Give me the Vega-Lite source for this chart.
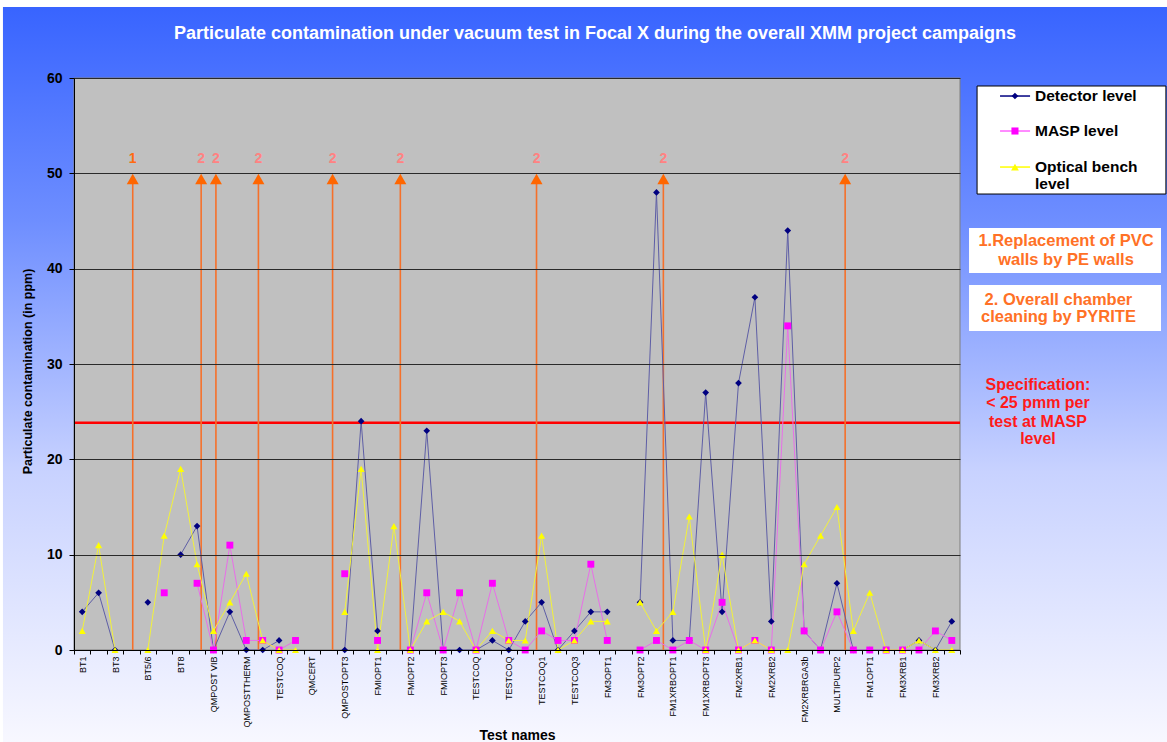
{
  "$schema": "https://vega.github.io/schema/vega-lite/v6.json",
  "width": 886,
  "height": 572,
  "autosize": {"type": "none"},
  "padding": {"left": 74, "top": 78, "right": 207, "bottom": 92},
  "background": "#FFFFFF",
  "config": {"view": {"stroke": null}, "font": "Liberation Sans"},
  "title": {
    "text": "Particulate contamination under vacuum test in Focal X during the overall XMM project campaigns",
    "color": "#FFFFFF", "font": "Liberation Sans", "fontSize": 18, "fontWeight": "bold",
    "anchor": "middle", "frame": "group", "dx": 78, "offset": -36
  },
  "datasets": {
    "tests": [
      {"n": 0, "test": "BT1", "detector": 4, "masp": null, "optical": 2},
      {"n": 1, "test": "BT2", "detector": 6, "masp": null, "optical": 11},
      {"n": 2, "test": "BT3", "detector": 0, "masp": null, "optical": 0},
      {"n": 3, "test": "BT4", "detector": null, "masp": null, "optical": null},
      {"n": 4, "test": "BT5/6", "detector": 5, "masp": null, "optical": 0},
      {"n": 5, "test": "BT7", "detector": null, "masp": 6, "optical": 12},
      {"n": 6, "test": "BT8", "detector": 10, "masp": null, "optical": 19},
      {"n": 7, "test": "BT9", "detector": 13, "masp": 7, "optical": 9},
      {"n": 8, "test": "QMPOST VIB", "detector": 0, "masp": 0, "optical": 2},
      {"n": 9, "test": "QMPOST VIB B", "detector": 4, "masp": 11, "optical": 5},
      {"n": 10, "test": "QMPOSTTHERM", "detector": 0, "masp": 1, "optical": 8},
      {"n": 11, "test": "QMPOSTTHERM B", "detector": 0, "masp": 1, "optical": 1},
      {"n": 12, "test": "TESTCOQ", "detector": 1, "masp": 0, "optical": 0},
      {"n": 13, "test": "TESTCOQ B", "detector": null, "masp": 1, "optical": 0},
      {"n": 14, "test": "QMCERT", "detector": null, "masp": null, "optical": null},
      {"n": 15, "test": "QMCERT B", "detector": null, "masp": null, "optical": null},
      {"n": 16, "test": "QMPOSTOPT3", "detector": 0, "masp": 8, "optical": 4},
      {"n": 17, "test": "QMPOSTOPT3 B", "detector": 24, "masp": null, "optical": 19},
      {"n": 18, "test": "FMIOPT1", "detector": 2, "masp": 1, "optical": 0},
      {"n": 19, "test": "FMIOPT1 B", "detector": null, "masp": null, "optical": 13},
      {"n": 20, "test": "FMIOPT2", "detector": 0, "masp": 0, "optical": 0},
      {"n": 21, "test": "FMIOPT2 B", "detector": 23, "masp": 6, "optical": 3},
      {"n": 22, "test": "FMIOPT3", "detector": 0, "masp": 0, "optical": 4},
      {"n": 23, "test": "FMIOPT3 B", "detector": 0, "masp": 6, "optical": 3},
      {"n": 24, "test": "TESTCOQ\u200b", "detector": 0, "masp": 0, "optical": 0},
      {"n": 25, "test": "TESTCOQ C", "detector": 1, "masp": 7, "optical": 2},
      {"n": 26, "test": "TESTCOQ\u200b\u200b", "detector": 0, "masp": 1, "optical": 1},
      {"n": 27, "test": "TESTCOQ D", "detector": 3, "masp": 0, "optical": 1},
      {"n": 28, "test": "TESTCOQ1", "detector": 5, "masp": 2, "optical": 12},
      {"n": 29, "test": "TESTCOQ2", "detector": 0, "masp": 1, "optical": 0},
      {"n": 30, "test": "TESTCOQ3", "detector": 2, "masp": 1, "optical": 1},
      {"n": 31, "test": "TESTCOQ4", "detector": 4, "masp": 9, "optical": 3},
      {"n": 32, "test": "FM3OPT1", "detector": 4, "masp": 1, "optical": 3},
      {"n": 33, "test": "FM3OPT1 B", "detector": null, "masp": null, "optical": null},
      {"n": 34, "test": "FM3OPT2", "detector": 5, "masp": 0, "optical": 5},
      {"n": 35, "test": "FM3OPT2 B", "detector": 48, "masp": 1, "optical": 2},
      {"n": 36, "test": "FM1XRBOPT1", "detector": 1, "masp": 0, "optical": 4},
      {"n": 37, "test": "FM1XRBOPT2", "detector": 1, "masp": 1, "optical": 14},
      {"n": 38, "test": "FM1XRBOPT3", "detector": 27, "masp": 0, "optical": 0},
      {"n": 39, "test": "FM1XRBOPT3 B", "detector": 4, "masp": 5, "optical": 10},
      {"n": 40, "test": "FM2XRB1", "detector": 28, "masp": 0, "optical": 0},
      {"n": 41, "test": "FM2XRB1 B", "detector": 37, "masp": 1, "optical": 1},
      {"n": 42, "test": "FM2XRB2", "detector": 3, "masp": 0, "optical": 0},
      {"n": 43, "test": "FM2XRB2 B", "detector": 44, "masp": 34, "optical": 0},
      {"n": 44, "test": "FM2XRBRGA3b", "detector": 2, "masp": 2, "optical": 9},
      {"n": 45, "test": "FM2XRBRGA3b B", "detector": 0, "masp": 0, "optical": 12},
      {"n": 46, "test": "MULTIPURP2", "detector": 7, "masp": 4, "optical": 15},
      {"n": 47, "test": "MULTIPURP2 B", "detector": 0, "masp": 0, "optical": 2},
      {"n": 48, "test": "FM1OPT1", "detector": 0, "masp": 0, "optical": 6},
      {"n": 49, "test": "FM1OPT2", "detector": 0, "masp": 0, "optical": 0},
      {"n": 50, "test": "FM3XRB1", "detector": 0, "masp": 0, "optical": 0},
      {"n": 51, "test": "FM3XRB1 B", "detector": 1, "masp": 0, "optical": 1},
      {"n": 52, "test": "FM3XRB2", "detector": 0, "masp": 2, "optical": 0},
      {"n": 53, "test": "FM3XRB3", "detector": 3, "masp": 1, "optical": 0}
    ],
    "arrows": [
      {"at": 3.08, "label": "1"},
      {"at": 7.25, "label": "2"},
      {"at": 8.15, "label": "2"},
      {"at": 10.74, "label": "2"},
      {"at": 15.26, "label": "2"},
      {"at": 19.39, "label": "2"},
      {"at": 27.69, "label": "2"},
      {"at": 35.42, "label": "2"},
      {"at": 46.5, "label": "2"}
    ]
  },
  "resolve": {"scale": {"x": "independent"}},
  "layer": [
    {
      "layer": [
        {
          "data": {"values": [{}]},
          "mark": {"type": "rect", "fill": {"gradient": "linear", "x1": 0, "y1": 0, "x2": 0, "y2": 1, "stops": [
            {"offset": 0, "color": "#3864FF"},
            {"offset": 0.29, "color": "#6E8EFF"},
            {"offset": 0.63, "color": "#C8D2FF"},
            {"offset": 1, "color": "#F8F8FF"}]}},
          "encoding": {
            "x": {"datum": -4.83, "type": "quantitative", "scale": {"domain": [-0.5, 53.5], "nice": false, "zero": false}, "axis": null},
            "x2": {"datum": 66.2},
            "y": {"datum": 67.45, "type": "quantitative"},
            "y2": {"datum": -10}
          }
        },
        {
          "data": {"values": [{}]},
          "mark": {"type": "rect", "fill": "#C0C0C0", "stroke": "#7F7F7F", "strokeWidth": 1},
          "encoding": {
            "x": {"datum": -0.5, "type": "quantitative", "axis": null},
            "x2": {"datum": 53.5},
            "y": {"datum": 0, "type": "quantitative"},
            "y2": {"datum": 60}
          }
        },
        {
          "data": {"values": [{}]},
          "mark": {"type": "rule", "color": "#FF0000", "strokeWidth": 2.5},
          "encoding": {"y": {"datum": 23.85, "type": "quantitative"}}
        },
        {
          "data": {"name": "arrows"},
          "mark": {"type": "rule", "color": "#F5702A", "strokeWidth": 1.6},
          "encoding": {
            "x": {"field": "at", "type": "quantitative", "axis": null},
            "y": {"datum": 0, "type": "quantitative"},
            "y2": {"datum": 49}
          }
        },
        {
          "data": {"name": "arrows"},
          "mark": {"type": "point", "shape": "triangle-up", "filled": true, "size": 144, "color": "#FF6600", "opacity": 1, "strokeWidth": 0},
          "encoding": {
            "x": {"field": "at", "type": "quantitative", "axis": null},
            "y": {"datum": 49.4, "type": "quantitative"}
          }
        },
        {
          "data": {"name": "arrows"},
          "mark": {"type": "text", "fontSize": 14, "fontWeight": "bold", "font": "Liberation Sans", "baseline": "middle"},
          "encoding": {
            "x": {"field": "at", "type": "quantitative", "axis": null},
            "y": {"datum": 51.5, "type": "quantitative"},
            "text": {"field": "label"},
            "color": {"condition": {"test": "datum.label === '1'", "value": "#FF6A10"}, "value": "#FF8282"}
          }
        }
      ]
    },
    {
      "data": {"name": "tests"},
      "transform": [{"fold": ["detector", "masp", "optical"], "as": ["series", "value"]}],
      "encoding": {
        "x": {
          "field": "test", "type": "nominal", "sort": {"field": "n", "op": "min"},
          "scale": {"type": "band", "paddingInner": 0, "paddingOuter": 0},
          "axis": {
            "zindex": 1, "title": "Test names", "titleFont": "Liberation Sans", "titleFontSize": 14,
            "titleFontWeight": "bold", "titleColor": "#000000", "titlePadding": 2,
            "labelAngle": -90, "labelFontSize": 9, "labelFont": "Liberation Sans", "labelColor": "#000000",
            "labelPadding": 2, "labelOverlap": false,
            "labelExpr": "round(datum.index * 53) % 2 == 0 ? datum.label : ''",
            "tickBand": "extent", "tickSize": 4, "tickColor": "#000000",
            "domainColor": "#000000", "domainWidth": 1, "grid": false
          }
        },
        "y": {
          "field": "value", "type": "quantitative",
          "scale": {"domain": [0, 60], "nice": false, "zero": true},
          "axis": {
            "zindex": 1, "values": [0, 10, 20, 30, 40, 50, 60], "grid": true,
            "gridColor": "#2A2A2A", "gridWidth": 1.2,
            "labelFont": "Liberation Sans", "labelFontSize": 14, "labelFontWeight": "bold", "labelColor": "#000000",
            "labelPadding": 7, "tickSize": 5, "tickColor": "#000000", "domainColor": "#000000",
            "title": "Particulate contamination (in ppm)", "titleFont": "Liberation Sans", "titleFontSize": 12.5,
            "titleFontWeight": "bold", "titleColor": "#000000", "titlePadding": 12, "titleY": 293
          }
        }
      },
      "layer": [
        {
          "mark": {"type": "line", "strokeWidth": 1},
          "encoding": {
            "stroke": {"field": "series", "type": "nominal", "legend": null,
              "scale": {"domain": ["detector", "masp", "optical"], "range": ["#5E5EA6", "#E86FE8", "#F2F23A"]}}
          }
        },
        {
          "mark": {"type": "point", "filled": true, "opacity": 1, "strokeWidth": 0},
          "encoding": {
            "fill": {"field": "series", "type": "nominal", "legend": null,
              "scale": {"domain": ["detector", "masp", "optical"], "range": ["#000080", "#FF00FF", "#FFFF00"]}},
            "shape": {"field": "series", "type": "nominal", "legend": null,
              "scale": {"domain": ["detector", "masp", "optical"], "range": ["diamond", "square", "triangle-up"]}},
            "size": {"field": "series", "type": "nominal", "legend": null,
              "scale": {"domain": ["detector", "masp", "optical"], "range": [45, 50, 70]}},
            "order": {"field": "series"}
          }
        }
      ]
    },
    {
      "data": {"values": [{}]},
      "layer": [
        {
          "mark": {"type": "rect", "fill": "#FFFFFF", "stroke": "#000000", "strokeWidth": 1},
          "encoding": {
            "x": {"datum": 54.54, "type": "quantitative", "scale": {"domain": [-0.5, 53.5], "nice": false, "zero": false}, "axis": null},
            "x2": {"datum": 66.05},
            "y": {"datum": 59.16, "type": "quantitative"},
            "y2": {"datum": 47.83}
          }
        },
        {
          "encoding": {"y": {"datum": 58.11, "type": "quantitative"}},
          "layer": [
            {"mark": {"type": "rule", "color": "#000080", "strokeWidth": 1.5},
             "encoding": {"x": {"datum": 55.94, "type": "quantitative", "axis": null}, "x2": {"datum": 57.77}}},
            {"mark": {"type": "point", "shape": "diamond", "filled": true, "size": 45, "color": "#000080", "opacity": 1, "strokeWidth": 0},
             "encoding": {"x": {"datum": 56.85, "type": "quantitative", "axis": null}}},
            {"mark": {"type": "text", "align": "left", "baseline": "middle", "fontSize": 15.5, "fontWeight": "bold", "color": "#000000"},
             "encoding": {"x": {"datum": 58.07, "type": "quantitative", "axis": null}, "text": {"value": "Detector level"}}}
          ]
        },
        {
          "encoding": {"y": {"datum": 54.44, "type": "quantitative"}},
          "layer": [
            {"mark": {"type": "rule", "color": "#FF66FF", "strokeWidth": 1.5},
             "encoding": {"x": {"datum": 55.94, "type": "quantitative", "axis": null}, "x2": {"datum": 57.77}}},
            {"mark": {"type": "point", "shape": "square", "filled": true, "size": 50, "color": "#FF00FF", "opacity": 1, "strokeWidth": 0},
             "encoding": {"x": {"datum": 56.85, "type": "quantitative", "axis": null}}},
            {"mark": {"type": "text", "align": "left", "baseline": "middle", "fontSize": 15.5, "fontWeight": "bold", "color": "#000000"},
             "encoding": {"x": {"datum": 58.07, "type": "quantitative", "axis": null}, "text": {"value": "MASP level"}}}
          ]
        },
        {
          "encoding": {"y": {"datum": 50.66, "type": "quantitative"}},
          "layer": [
            {"mark": {"type": "rule", "color": "#FFFF00", "strokeWidth": 1.5},
             "encoding": {"x": {"datum": 55.94, "type": "quantitative", "axis": null}, "x2": {"datum": 57.77}}},
            {"mark": {"type": "point", "shape": "triangle-up", "filled": true, "size": 60, "color": "#FFFF00", "opacity": 1, "strokeWidth": 0},
             "encoding": {"x": {"datum": 56.85, "type": "quantitative", "axis": null}}},
            {"mark": {"type": "text", "align": "left", "baseline": "middle", "fontSize": 15.5, "fontWeight": "bold", "color": "#000000"},
             "encoding": {"x": {"datum": 58.07, "type": "quantitative", "axis": null}, "text": {"value": "Optical bench"}}}
          ]
        },
        {
          "mark": {"type": "text", "align": "left", "baseline": "middle", "fontSize": 15.5, "fontWeight": "bold", "color": "#000000"},
          "encoding": {"x": {"datum": 58.07, "type": "quantitative", "axis": null}, "y": {"datum": 48.93, "type": "quantitative"}, "text": {"value": "level"}}
        },
        {
          "mark": {"type": "rect", "fill": "#FFFFFF"},
          "encoding": {
            "x": {"datum": 54.05, "type": "quantitative", "axis": null},
            "x2": {"datum": 65.75},
            "y": {"datum": 44.27, "type": "quantitative"},
            "y2": {"datum": 39.55}
          }
        },
        {
          "mark": {"type": "rect", "fill": "#FFFFFF"},
          "encoding": {
            "x": {"datum": 54.05, "type": "quantitative", "axis": null},
            "x2": {"datum": 65.75},
            "y": {"datum": 38.29, "type": "quantitative"},
            "y2": {"datum": 33.46}
          }
        },
        {
          "mark": {"type": "text", "align": "center", "baseline": "middle", "fontSize": 16.5, "fontWeight": "bold", "color": "#FF7126"},
          "encoding": {"x": {"datum": 59.96, "type": "quantitative", "axis": null}, "y": {"datum": 42.93, "type": "quantitative"}, "text": {"value": "1.Replacement of PVC"}}
        },
        {
          "mark": {"type": "text", "align": "center", "baseline": "middle", "fontSize": 16.5, "fontWeight": "bold", "color": "#FF7126"},
          "encoding": {"x": {"datum": 59.96, "type": "quantitative", "axis": null}, "y": {"datum": 40.91, "type": "quantitative"}, "text": {"value": "walls by PE walls"}}
        },
        {
          "mark": {"type": "text", "align": "center", "baseline": "middle", "fontSize": 16.5, "fontWeight": "bold", "color": "#FF7126"},
          "encoding": {"x": {"datum": 59.5, "type": "quantitative", "axis": null}, "y": {"datum": 36.71, "type": "quantitative"}, "text": {"value": "2. Overall chamber"}}
        },
        {
          "mark": {"type": "text", "align": "center", "baseline": "middle", "fontSize": 16.5, "fontWeight": "bold", "color": "#FF7126"},
          "encoding": {"x": {"datum": 59.5, "type": "quantitative", "axis": null}, "y": {"datum": 34.9, "type": "quantitative"}, "text": {"value": "cleaning by PYRITE"}}
        },
        {
          "mark": {"type": "text", "align": "center", "baseline": "middle", "fontSize": 16, "fontWeight": "bold", "color": "#FF1A1A"},
          "encoding": {"x": {"datum": 58.25, "type": "quantitative", "axis": null}, "y": {"datum": 27.8, "type": "quantitative"}, "text": {"value": "Specification:"}}
        },
        {
          "mark": {"type": "text", "align": "center", "baseline": "middle", "fontSize": 16, "fontWeight": "bold", "color": "#FF1A1A"},
          "encoding": {"x": {"datum": 58.25, "type": "quantitative", "axis": null}, "y": {"datum": 25.88, "type": "quantitative"}, "text": {"value": "< 25 pmm per"}}
        },
        {
          "mark": {"type": "text", "align": "center", "baseline": "middle", "fontSize": 16, "fontWeight": "bold", "color": "#FF1A1A"},
          "encoding": {"x": {"datum": 58.25, "type": "quantitative", "axis": null}, "y": {"datum": 23.95, "type": "quantitative"}, "text": {"value": "test at MASP"}}
        },
        {
          "mark": {"type": "text", "align": "center", "baseline": "middle", "fontSize": 16, "fontWeight": "bold", "color": "#FF1A1A"},
          "encoding": {"x": {"datum": 58.25, "type": "quantitative", "axis": null}, "y": {"datum": 22.1, "type": "quantitative"}, "text": {"value": "level"}}
        }
      ]
    }
  ]
}
